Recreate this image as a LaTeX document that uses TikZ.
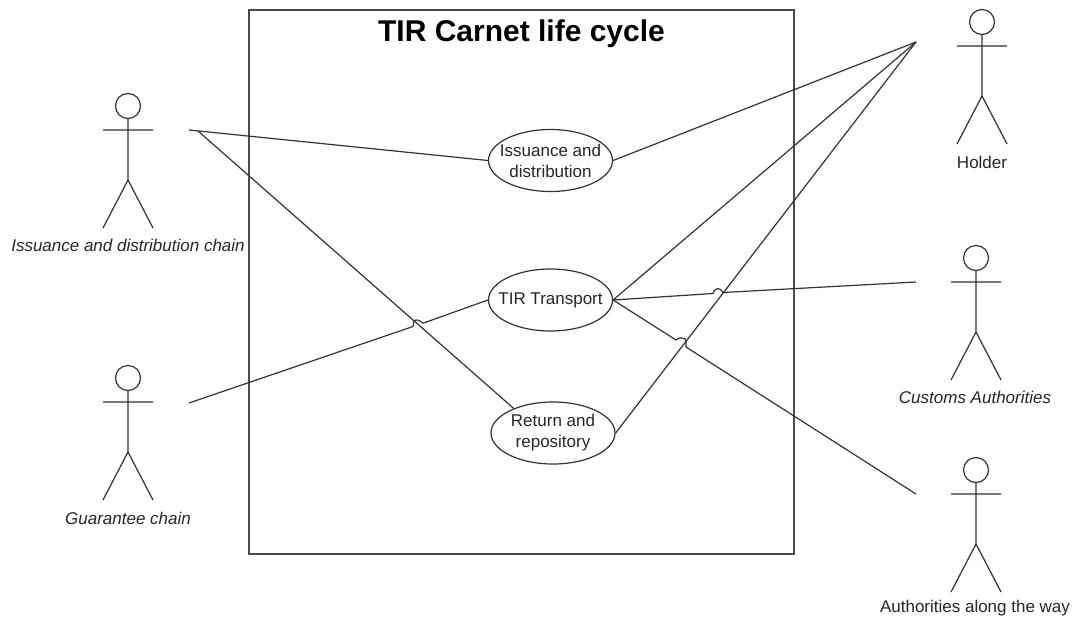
\documentclass[tikz,border=0pt]{standalone}
\usepackage{fontspec}
\usetikzlibrary{shapes.geometric}
\setmainfont{Liberation Sans}
\begin{document}
\begin{tikzpicture}[x=1pt,y=-1pt,
  line/.style={draw=black!80,line width=1.2pt},
  usecase/.style={ellipse,draw=black!80,line width=1.2pt,fill=white,inner xsep=-14pt,inner ysep=-8pt,align=center,font=\fontsize{17}{21}\selectfont,text=black!85,minimum width=124pt,minimum height=62pt},
  lbl/.style={font=\fontsize{17}{20}\selectfont,inner sep=0pt,text=black!85},
  ilbl/.style={font=\itshape\fontsize{17}{20}\selectfont,inner sep=0pt,text=black!85},
  stick/.pic={\draw[line] (0,0) circle (12.5) (0,12.5)--(0,74) (-25,24)--(25,24) (-25,122)--(0,74)--(25,122);}]
\useasboundingbox (0,0) rectangle (1075,624);
\fill[white] (0,0) rectangle (1075,624);
\node[draw=black!70,line width=1.2pt,minimum width=545pt,minimum height=544pt,inner sep=0pt] (box) at (521.5,282) {};
\node[font=\bfseries\fontsize{30}{34}\selectfont,inner sep=0pt] (title) at (521.5,34) {TIR Carnet life cycle};
\pic at (128,106) {stick};
\pic at (982,22) {stick};
\pic at (976,258) {stick};
\pic at (976,470) {stick};
\pic at (128,378) {stick};
\node[ilbl] (l1) at (128,245) {Issuance and distribution chain};
\node[ilbl] (l2) at (128,518) {Guarantee chain};
\node[lbl] (l3) at (982,162) {Holder};
\node[ilbl] (l4) at (975,397) {Customs Authorities};
\node[lbl] (l5) at (975,608) {Authorities along the way};
\coordinate (chain) at (189,130);
\coordinate (fork) at (198,131);
\coordinate (guar) at (189,403);
\coordinate (hold) at (916,42);
\coordinate (cust) at (916,282);
\coordinate (auth) at (916,494);
\coordinate (j1a) at (413,326.5);
\coordinate (j1b) at (423,323.2);
\coordinate (j2a) at (713,293.5);
\coordinate (j2b) at (723,292.5);
\coordinate (j3a) at (676,340);
\coordinate (j3b) at (686,347);
\node[usecase] (iss) at (550.5,160.5) {Issuance and\\distribution};
\node[usecase] (tir) at (550.5,300) {TIR Transport};
\node[usecase] (ret) at (553,433) {Return and\\repository};
\draw[line] (chain) -- (iss.west);
\draw[line] (fork) -- (ret.148);
\draw[line] (iss.east) -- (hold);
\draw[line] (tir.east) -- (hold);
\draw[line] (ret.east) -- (hold);
\draw[line] (guar) -- (j1a) -- (414,321) .. controls (416,319) and (420,320) .. (j1b) -- (tir.west);
\draw[line] (tir.east) -- (j2a) .. controls (715,287) and (720,287) .. (j2b) -- (cust);
\draw[line] (tir.east) -- (j3a) .. controls (678,337) and (686,337) .. (686,341) -- (j3b) -- (auth);
\end{tikzpicture}
\end{document}
